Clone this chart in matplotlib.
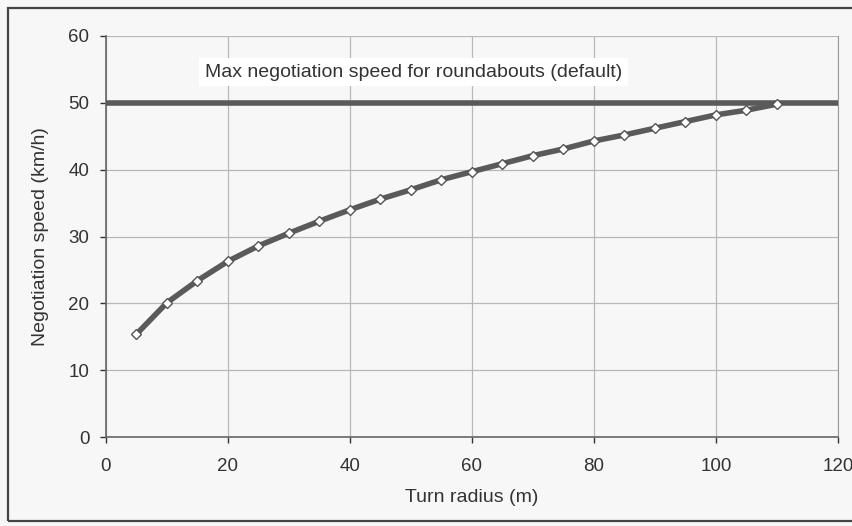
import numpy as np
import matplotlib
matplotlib.use("Agg")
from matplotlib import pyplot as plt
from matplotlib.patches import Rectangle

# turn radius (m) and negotiation speed (km/h)
radius = [5, 10, 15, 20, 25, 30, 35, 40, 45, 50, 55,
          60, 65, 70, 75, 80, 85, 90, 95, 100, 105, 110]
speed = [15.4, 20.1, 23.4, 26.3, 28.6, 30.5, 32.3, 34.0, 35.6, 37.0, 38.5,
         39.7, 40.9, 42.1, 43.1, 44.3, 45.2, 46.2, 47.2, 48.2, 48.9, 49.8]
max_speed = 50
max_label = "Max negotiation speed for roundabouts (default)"
xticks = [0, 20, 40, 60, 80, 100, 120]
yticks = [0, 10, 20, 30, 40, 50, 60]

plt.rcParams['font.family'] = ['Liberation Sans', 'DejaVu Sans']

fig = plt.figure(figsize=(8.53, 5.26), dpi=100, facecolor='#f7f7f7')
fig.patches.append(Rectangle((8/853, 5/526), 1.0, 1 - 13/526, transform=fig.transFigure,
                             fill=False, edgecolor='#444444', linewidth=1.6))

ax = fig.add_axes([106/853, 1 - 437/526, (838 - 106)/853, (437 - 36)/526])
ax.set_facecolor('#f7f7f7')

ax.axhline(max_speed, color='#5a5a5a', linewidth=4, zorder=3)
ax.plot(radius, speed, color='#5a5a5a', linewidth=4, zorder=4)
ax.plot(radius, speed, linestyle='none', marker='D', markersize=5.5,
        markerfacecolor='white', markeredgecolor='#555555', markeredgewidth=1, zorder=5)

ax.text(16.2, 54.6, max_label, fontsize=14, color='#333333', va='center',
        bbox=dict(facecolor='white', edgecolor='none', pad=4))

ax.set_xlim(0, 120)
ax.set_ylim(0, 60)
ax.set_xticks(xticks)
ax.set_yticks(yticks)
ax.tick_params(labelsize=13.5, colors='#333333', length=4, width=1)
ax.tick_params(axis='x', pad=11)
ax.tick_params(axis='y', pad=8)
ax.grid(True, color='#b8b8b8', linewidth=0.9)
ax.set_axisbelow(True)
ax.spines['top'].set_visible(False)
ax.spines['right'].set_color('#9a9a9a')
ax.spines['left'].set_color('#666666')
ax.spines['bottom'].set_color('#666666')
ax.spines['left'].set_linewidth(1.2)
ax.spines['bottom'].set_linewidth(1.2)

ax.set_xlabel("Turn radius (m)", fontsize=14, color='#333333', labelpad=10)
ax.set_ylabel("Negotiation speed (km/h)", fontsize=14, color='#333333', labelpad=14)

fig.savefig("out.png", dpi=100, facecolor=fig.get_facecolor())
